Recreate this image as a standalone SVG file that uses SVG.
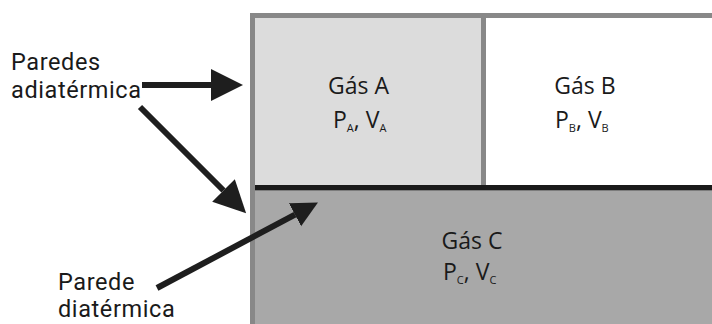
<svg xmlns="http://www.w3.org/2000/svg" width="712" height="324" viewBox="0 0 712 324">
<style>
text{font-family:"Open Sans","Noto Sans","Liberation Sans",sans-serif;fill:#1a1a1a;font-size:23px}
.lbl{font-family:Roboto,"Open Sans","Liberation Sans",sans-serif;font-size:23.5px;letter-spacing:0.6px}
.sub{font-size:11px}
.arrow{stroke:#1e1e1e;stroke-width:6;fill:none}
</style>
<defs>
<marker id="headL" viewBox="0 0 10 10" refX="0" refY="5" markerUnits="userSpaceOnUse" markerWidth="32" markerHeight="33" orient="auto">
<path d="M0,0 L10,5 L0,10 z" fill="#1e1e1e"/>
</marker>
<marker id="headS" viewBox="0 0 10 10" refX="0" refY="5" markerUnits="userSpaceOnUse" markerWidth="26" markerHeight="28" orient="auto">
<path d="M0,0 L10,5 L0,10 z" fill="#1e1e1e"/>
</marker>
</defs>
<rect x="0" y="0" width="712" height="324" fill="#ffffff"/>
<g id="container">
<rect x="250" y="13" width="470" height="320" fill="#888888"/>
</g>
<g id="gasA">
<rect x="255" y="18" width="226" height="167" fill="#dcdcdc"/>
<text x="358.5" y="94" text-anchor="middle">Gás A</text>
<text x="333" y="128">P<tspan class="sub" dy="4">A</tspan><tspan dy="-4">, V</tspan><tspan class="sub" dy="4">A</tspan></text>
</g>
<g id="gasB">
<rect x="486" y="18" width="230" height="167" fill="#ffffff"/>
<text x="585" y="94" text-anchor="middle">Gás B</text>
<text x="555" y="128">P<tspan class="sub" dy="4">B</tspan><tspan dy="-4">, V</tspan><tspan class="sub" dy="4">B</tspan></text>
</g>
<g id="wall">
<rect x="255" y="185" width="460" height="5.5" fill="#1a1a1a"/>
</g>
<g id="gasC">
<rect x="255" y="190.5" width="460" height="140" fill="#a8a8a8"/>
<text x="472" y="249" text-anchor="middle">Gás C</text>
<text x="443" y="280">P<tspan class="sub" dy="4">C</tspan><tspan dy="-4">, V</tspan><tspan class="sub" dy="4">C</tspan></text>
</g>
<g id="label-adiatermica">
<text class="lbl" x="11" y="70">Paredes</text>
<text class="lbl" x="11" y="98">adiatérmica</text>
</g>
<g id="label-diatermica">
<text class="lbl" x="58" y="290">Parede</text>
<text class="lbl" x="58" y="317">diatérmica</text>
</g>
<g id="connectors">
<line class="arrow" x1="142" y1="85" x2="211" y2="85" marker-end="url(#headL)"/>
<line class="arrow" x1="140" y1="107" x2="223.5" y2="190.5" marker-end="url(#headL)"/>
<line class="arrow" x1="157" y1="288" x2="295" y2="214.7" marker-end="url(#headS)"/>
</g>
</svg>
